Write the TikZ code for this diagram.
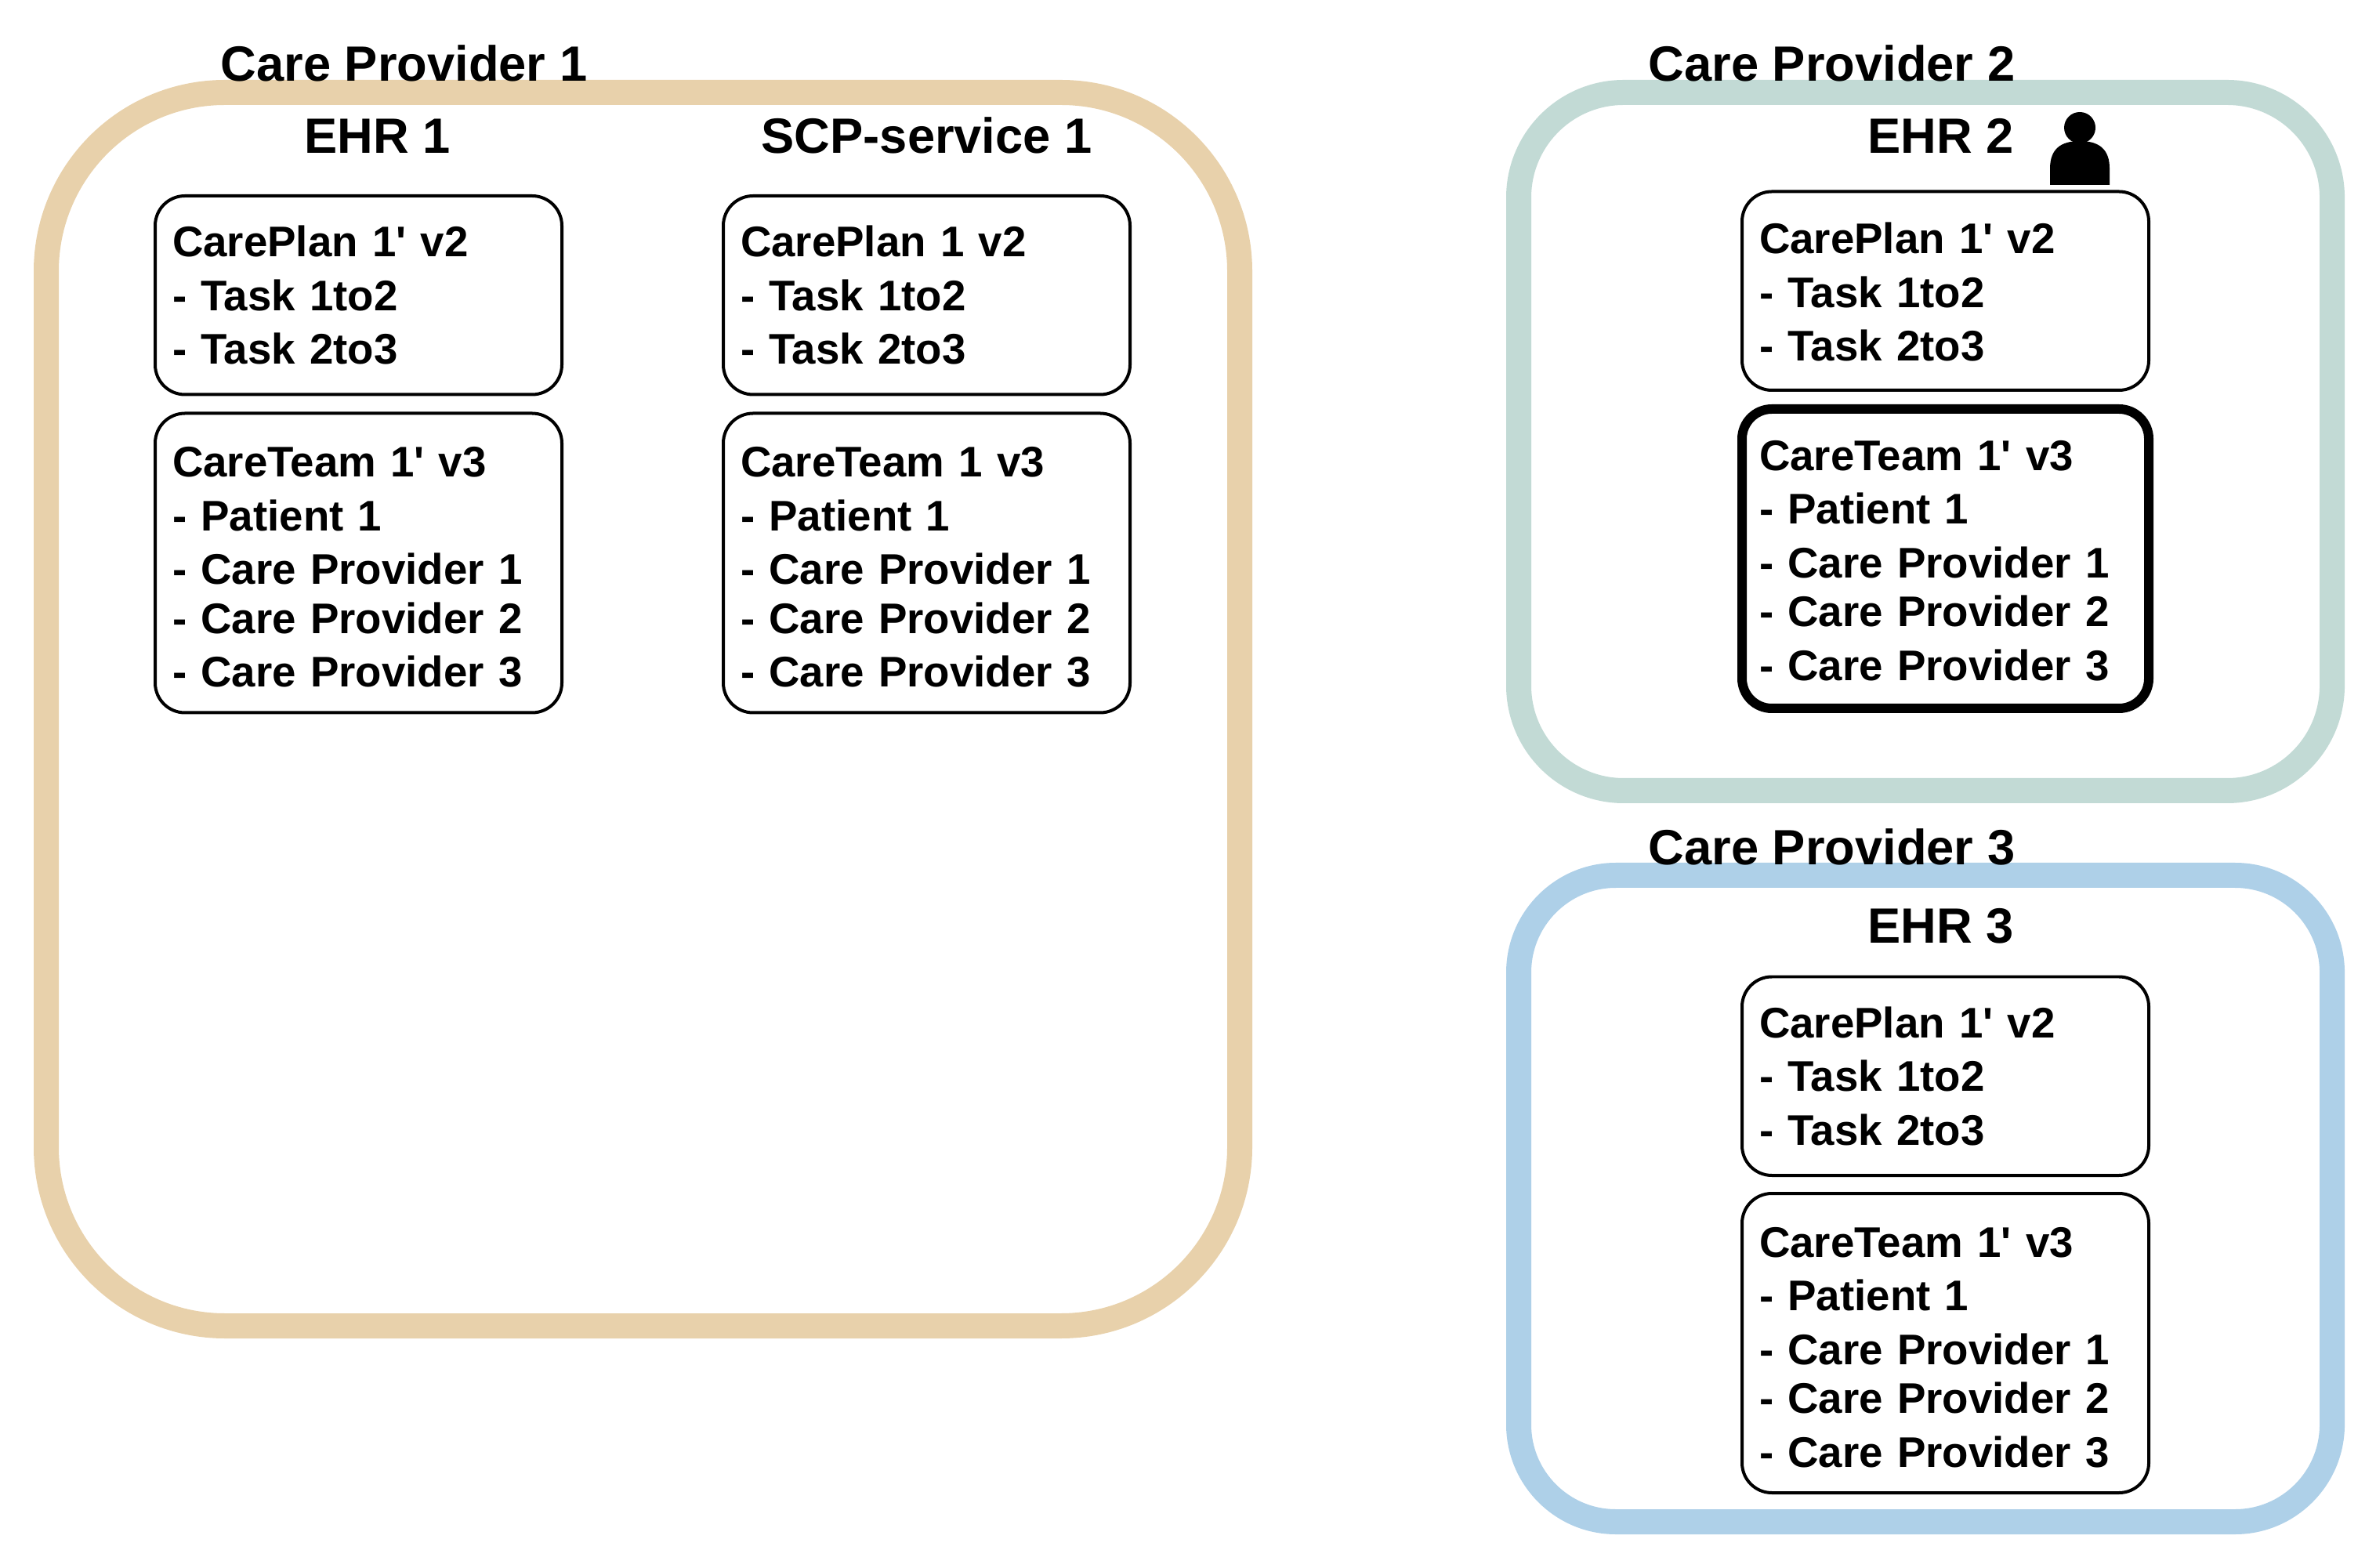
\documentclass[tikz,border=0pt]{standalone}
\usepackage{fontspec}
\setmainfont{Liberation Sans}

\definecolor{providerone}{HTML}{E8D1AB}
\definecolor{providertwo}{HTML}{C2DAD5}
\definecolor{providerthree}{HTML}{AED0E8}

\tikzset{
    providerbox/.style={draw, line width=0.32cm, outer sep=0pt},
    resourcebox/.style={draw, line width=0.04cm, rounded corners=0.38cm, outer sep=0pt,
        minimum width=5.19cm, align=left, inner xsep=0.22cm, inner ysep=0pt, text width=4.75cm,
        font=\fontsize{15.55}{19.5}\selectfont\bfseries},
    planbox/.style={resourcebox, minimum height=2.535cm},
    teambox/.style={resourcebox, minimum height=3.82cm},
    heading/.style={anchor=base west, inner sep=0pt, font=\fontsize{18}{21}\selectfont\bfseries}
}

\begin{document}
\begin{tikzpicture}

    \useasboundingbox (0, 0) rectangle (30.32, 20);

    % Care providers
    \node[providerbox, draw=providerone, rounded corners=2.28cm, minimum width=15.23cm, minimum height=15.74cm]
      (provider1) at (8.205, 10.95) {};
    \node[providerbox, draw=providertwo, rounded corners=1.34cm, minimum width=10.38cm, minimum height=8.91cm]
      (provider2) at (24.57, 14.365) {};
    \node[providerbox, draw=providerthree, rounded corners=1.24cm, minimum width=10.38cm, minimum height=8.25cm]
      (provider3) at (24.57, 4.705) {};

    % Titles
    \node[heading] (title1) at (2.81, 18.96) {Care Provider 1};
    \node[heading] (title2) at (21.03, 18.96) {Care Provider 2};
    \node[heading] (title3) at (21.03, 8.96) {Care Provider 3};
    \node[heading] (ehr1) at (3.88, 18.04) {EHR 1};
    \node[heading] (service1) at (9.71, 18.04) {SCP-service 1};
    \node[heading] (ehr2) at (23.83, 18.04) {EHR 2};
    \node[heading] (ehr3) at (23.83, 7.96) {EHR 3};

    % EHR 1
    \node[planbox] (plan1) at (4.575, 16.2325)
      {CarePlan 1\textquotesingle{} v2\\- Task 1to2\\- Task 2to3};
    \node[teambox] (team1) at (4.575, 12.815)
      {\rule{0pt}{0.49cm}CareTeam 1\textquotesingle{} v3\\- Patient 1\\- Care Provider 1\\[-0.06cm]- Care Provider 2\\- Care Provider 3};

    % SCP-service 1
    \node[planbox] (plan2) at (11.825, 16.2325)
      {CarePlan 1 v2\\- Task 1to2\\- Task 2to3};
    \node[teambox] (team2) at (11.825, 12.815)
      {\rule{0pt}{0.49cm}CareTeam 1 v3\\- Patient 1\\- Care Provider 1\\[-0.06cm]- Care Provider 2\\- Care Provider 3};

    % EHR 2
    \node[planbox] (plan3) at (24.825, 16.2875)
      {\rule{0pt}{0.43cm}CarePlan 1\textquotesingle{} v2\\- Task 1to2\\- Task 2to3};
    \node[teambox, line width=0.12cm] (team3) at (24.825, 12.87)
      {\rule{0pt}{0.43cm}CareTeam 1\textquotesingle{} v3\\- Patient 1\\- Care Provider 1\\[-0.06cm]- Care Provider 2\\- Care Provider 3};

    % EHR 3
    \node[planbox] (plan4) at (24.825, 6.2675)
      {CarePlan 1\textquotesingle{} v2\\- Task 1to2\\- Task 2to3};
    \node[teambox] (team4) at (24.825, 2.86)
      {\rule{0pt}{0.49cm}CareTeam 1\textquotesingle{} v3\\- Patient 1\\- Care Provider 1\\[-0.06cm]- Care Provider 2\\- Care Provider 3};

    % Person
    \fill (26.54, 18.37) circle (0.2);
    \fill (26.16, 17.64) -- (26.16, 17.85) .. controls (26.16, 18.1) and (26.3, 18.2) .. (26.54, 18.2)
      .. controls (26.78, 18.2) and (26.92, 18.1) .. (26.92, 17.85) -- (26.92, 17.64) -- cycle;

\end{tikzpicture}
\end{document}
